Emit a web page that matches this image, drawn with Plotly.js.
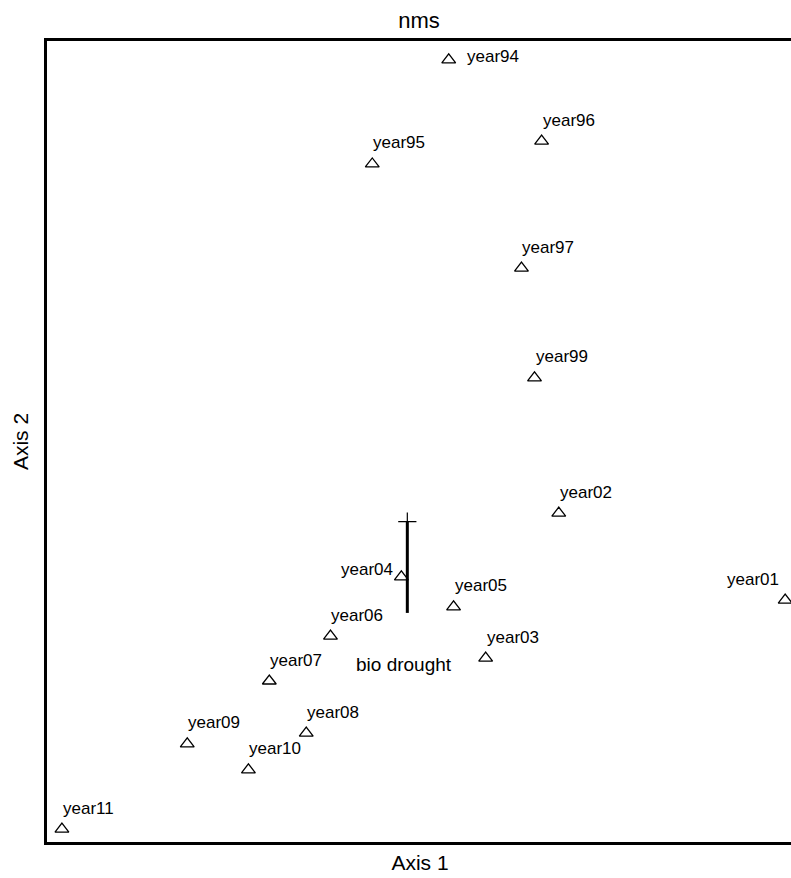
<!DOCTYPE html>
<html>
<head>
<meta charset="utf-8">
<script src="https://cdn.plot.ly/plotly-3.0.1.min.js"></script>
<style>
html,body{margin:0;padding:0;overflow:hidden;background:#fff;}
#chart{width:810px;height:878px;}
</style>
</head>
<body>
<div id="chart"></div>
<script>
// Site (year) scores on the NMS ordination
const years = ['year94','year96','year95','year97','year99','year02','year04','year05','year01','year06','year03','year07','year08','year09','year10','year11'];
const axis1 = [0.077, 0.326, -0.128, 0.272, 0.307, 0.372, -0.050, 0.090, 0.979, -0.240, 0.176, -0.404, -0.305, -0.624, -0.460, -0.960];
const axis2 = [0.953, 0.750, 0.693, 0.433, 0.159, -0.179, -0.338, -0.413, -0.396, -0.486, -0.541, -0.598, -0.728, -0.755, -0.820, -0.968];
const labelPlace = ['right','top','top','top','top','top','left','top','topleft','top','top','top','top','top','top','top'];

// Joint-plot vector
const vecName = 'bio drought';
const vecX = [-0.034, -0.034];
const vecY = [-0.428, -0.200];
const vecLabelX = -0.044;
const vecLabelY = -0.558;

const FONT = 'Liberation Sans, Arial, sans-serif';

const traces = [
  {
    type: 'scatter', mode: 'markers', x: axis1, y: axis2, text: years,
    marker: {symbol: 'triangle-up-open', size: 12, color: '#000', line: {width: 1.3, color: '#000'}},
    hoverinfo: 'text', showlegend: false, cliponaxis: false
  },
  {
    type: 'scatter', mode: 'lines', x: vecX, y: vecY,
    line: {color: '#000', width: 3}, showlegend: false, hoverinfo: 'skip'
  },
  {
    type: 'scatter', mode: 'markers', x: [vecX[1]], y: [vecY[1]],
    marker: {symbol: 'cross-thin-open', size: 13, color: '#000', line: {width: 1.2, color: '#000'}},
    showlegend: false, hoverinfo: 'skip'
  }
];

const offsets = {
  top:     {xanchor: 'left',  yanchor: 'middle', xshift: -1,  yshift: 21},
  right:   {xanchor: 'left',  yanchor: 'middle', xshift: 16,  yshift: 3},
  left:    {xanchor: 'right', yanchor: 'middle', xshift: -6,  yshift: 7},
  topleft: {xanchor: 'right', yanchor: 'middle', xshift: -4,  yshift: 21}
};

const annotations = years.map((t, i) => Object.assign({
  x: axis1[i], y: axis2[i], xref: 'x', yref: 'y', text: t, showarrow: false,
  font: {family: FONT, size: 17, color: '#000'}
}, offsets[labelPlace[i]]));

annotations.push({
  x: vecLabelX, y: vecLabelY, xref: 'x', yref: 'y', text: vecName, showarrow: false,
  xanchor: 'center', yanchor: 'middle',
  font: {family: FONT, size: 19, color: '#000'}
});

const axisCommon = {
  showgrid: false, zeroline: false, showticklabels: false, ticks: '',
  showline: true, linecolor: '#000', linewidth: 3, mirror: true,
  range: [-1, 1], fixedrange: true
};

const layout = {
  width: 810, height: 878,
  margin: {l: 47, r: 17, t: 41, b: 36},
  paper_bgcolor: '#fff', plot_bgcolor: '#fff',
  font: {family: FONT, color: '#000'},
  title: {text: 'nms', font: {family: FONT, size: 22, color: '#000'},
          x: 419 / 810, xanchor: 'center', xref: 'container', y: 1 - 20/878, yref: 'container', yanchor: 'middle'},
  xaxis: Object.assign({}, axisCommon, {title: {text: 'Axis 1', font: {family: FONT, size: 21, color: '#000'}, standoff: 12}}),
  yaxis: Object.assign({}, axisCommon, {title: {text: 'Axis 2', font: {family: FONT, size: 21, color: '#000'}, standoff: 10}}),
  annotations: annotations
};

Plotly.newPlot('chart', traces, layout, {displayModeBar: false, staticPlot: true});
</script>
</body>
</html>
